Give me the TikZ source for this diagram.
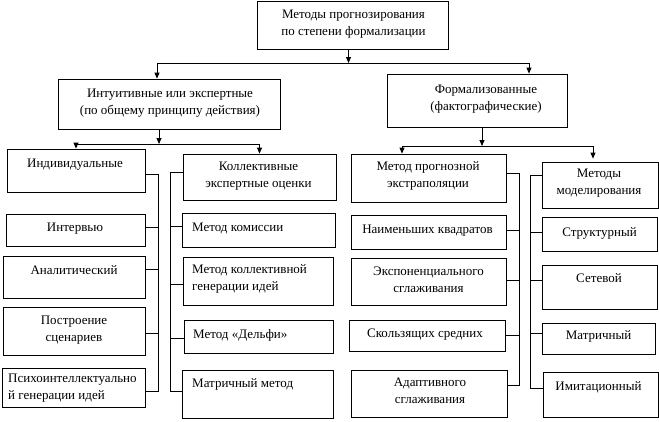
\documentclass[tikz,border=0pt]{standalone}
\usepackage{fontspec}
\setmainfont{Liberation Serif}
\usetikzlibrary{arrows.meta}

\tikzset{
  box/.style={draw, line width=0.8pt, inner sep=0pt},
  lbl/.style={font=\fontsize{13}{16.5}\selectfont, inner sep=0pt, align=center, anchor=base},
  lbll/.style={lbl, align=left, anchor=base west},
  line/.style={line width=0.8pt},
  arr/.style={line width=0.8pt, -{Triangle[width=5pt,length=6pt]}},
}

\begin{document}
\begin{tikzpicture}[x=1pt,y=-1pt]
			\useasboundingbox (0,0) rectangle (659,421);
			
			%%%%% BOXES %%%%%
			
			\node[box, minimum width=191, minimum height=48] (top) at (352.5,25) {};
			\node[box, minimum width=222, minimum height=50] (intu) at (169,104) {};
			\node[box, minimum width=180, minimum height=53] (form) at (477,100.5) {};
			
			\node[box, minimum width=138, minimum height=43] (ind) at (76,170.5) {};
			\node[box, minimum width=139, minimum height=32] (interv) at (75.5,230) {};
			\node[box, minimum width=142, minimum height=42] (anal) at (74,277) {};
			\node[box, minimum width=142, minimum height=48] (postr) at (74,331) {};
			\node[box, minimum width=143, minimum height=39] (psy) at (73.5,387.5) {};
			
			\node[box, minimum width=153, minimum height=46] (koll) at (259.5,177) {};
			\node[box, minimum width=153, minimum height=34] (kom) at (258.5,230) {};
			\node[box, minimum width=150, minimum height=48] (kgen) at (258,281) {};
			\node[box, minimum width=149, minimum height=33] (delphi) at (258.5,336.5) {};
			\node[box, minimum width=151, minimum height=48] (matm) at (257.5,394) {};
			
			\node[box, minimum width=155, minimum height=48] (extr) at (428.5,178) {};
			\node[box, minimum width=155, minimum height=34] (mnk) at (428.5,232) {};
			\node[box, minimum width=155, minimum height=47] (expo) at (428.5,281.5) {};
			\node[box, minimum width=156, minimum height=31] (skol) at (427,335.5) {};
			\node[box, minimum width=156, minimum height=47] (adapt) at (429,393.5) {};
			
			\node[box, minimum width=116, minimum height=46] (model) at (600,185) {};
			\node[box, minimum width=115, minimum height=34] (struct) at (599.5,234) {};
			\node[box, minimum width=115, minimum height=44] (netw) at (599.5,287) {};
			\node[box, minimum width=113, minimum height=31] (matr) at (598.5,338.5) {};
			\node[box, minimum width=115, minimum height=45] (imit) at (600.5,394.5) {};
			
			%%%%% TEXTS %%%%%
			
			\node[lbl] (top-t) at (353.5,35) {Методы прогнозирования\\по степени формализации};
			\node[lbl] (intu-t) at (170,114) {Интуитивные или экспертные\\(по общему принципу действия)};
			\node[lbl] (form-t) at (486,110) {Формализованные\\(фактографические)};
			
			\node[lbl] (ind-t) at (75,167) {Индивидуальные};
			\node[lbl] (interv-t) at (75,231) {Интервью};
			\node[lbl] (anal-t) at (74,274) {Аналитический};
			\node[lbl] (postr-t) at (74,341) {Построение\\сценариев};
			\node[lbll] (psy-t) at (8,399) {Психоинтеллектуально\\й генерации идей};
			
			\node[lbl] (koll-t) at (258.5,187) {Коллективные\\экспертные оценки};
			\node[lbll] (kom-t) at (192,231) {Метод комиссии};
			\node[lbll] (kgen-t) at (192,290) {Метод коллективной\\генерации идей};
			\node[lbll] (delphi-t) at (193,338) {Метод «Дельфи»};
			\node[lbll] (matm-t) at (192,387) {Матричный метод};
			
			\node[lbl] (extr-t) at (428,187) {Метод прогнозной\\экстраполяции};
			\node[lbl] (mnk-t) at (427.5,233) {Наименьших квадратов};
			\node[lbl] (expo-t) at (428.5,292) {Экспоненциального\\сглаживания};
			\node[lbl] (skol-t) at (425,337) {Скользящих средних};
			\node[lbl] (adapt-t) at (430,403) {Адаптивного\\сглаживания};
			
			\node[lbl] (model-t) at (599,194) {Методы\\моделирования};
			\node[lbl] (struct-t) at (599.5,236) {Структурный};
			\node[lbl] (netw-t) at (599,282) {Сетевой};
			\node[lbl] (matr-t) at (598.5,339) {Матричный};
			\node[lbl] (imit-t) at (598.5,390) {Имитационный};
			
			%%%%% ARROWS %%%%%
			
			\coordinate (b0l) at (157,63);
			\coordinate (b0r) at (529,63);
			\draw[arr] ([xshift=-4]top.south) -- ([xshift=-4]top.south |- b0l);
			\draw[line] (b0l) -- (b0r);
			\draw[arr] (b0l) -- (b0l |- intu.north);
			\draw[arr] (b0r) -- (b0r |- form.north);
			
			\coordinate (b1l) at (76,144);
			\coordinate (b1r) at (259.5,144);
			\draw[arr] ([xshift=-10]intu.south) -- ([xshift=-10]intu.south |- b1l);
			\draw[line] (b1l) -- (b1r);
			\draw[arr] (b1l) -- (ind.north);
			\draw[arr] (b1r) -- (koll.north);
			
			\coordinate (b2l) at (402,146);
			\coordinate (b2r) at (593,146);
			\draw[arr] ([xshift=5]form.south) -- ([xshift=5]form.south |- b2l);
			\draw[line] (b2l) -- (b2r);
			\draw[arr] (b2l) -- (b2l |- extr.north);
			\draw[arr, shorten >=3pt] (b2r) -- (b2r |- model.north);
			
			%%%%% BRANCHES %%%%%
			
			\coordinate (lbt) at (158,174);
			\coordinate (lbb) at (158,391);
			\draw[line] (ind.east |- lbt) -- (lbt) -- (lbb) -- (psy.east |- lbb);
			\draw[line] (interv.east |- 0,227) -- (lbt |- 0,227);
			\draw[line] (anal.east |- 0,269) -- (lbt |- 0,269);
			\draw[line] (postr.east |- 0,333) -- (lbt |- 0,333);
			
			\coordinate (mbt) at (170,172);
			\coordinate (mbb) at (170,391);
			\draw[line] (koll.west |- mbt) -- (mbt) -- (mbb) -- (matm.west |- mbb);
			\draw[line] (kom.west |- 0,226) -- (mbt |- 0,226);
			\draw[line] (kgen.west |- 0,284) -- (mbt |- 0,284);
			\draw[line] (delphi.west |- 0,338) -- (mbt |- 0,338);
			
			\coordinate (rbt) at (519,173);
			\coordinate (rbb) at (519,385);
			\draw[line] (extr.east |- rbt) -- (rbt) -- (rbb) -- (adapt.east |- rbb);
			\draw[line] (mnk.east |- 0,230) -- (rbt |- 0,230);
			\draw[line] (expo.east |- 0,280) -- (rbt |- 0,280);
			\draw[line] (skol.east |- 0,335) -- (rbt |- 0,335);
			
			\coordinate (sbt) at (530,175);
			\coordinate (sbb) at (530,388);
			\draw[line] (model.west |- sbt) -- (sbt) -- (sbb) -- (imit.west |- sbb);
			\draw[line] (struct.west |- 0,232) -- (sbt |- 0,232);
			\draw[line] (netw.west |- 0,280) -- (sbt |- 0,280);
			\draw[line] (matr.west |- 0,333) -- (sbt |- 0,333);
			
		\end{tikzpicture}
\end{document}
